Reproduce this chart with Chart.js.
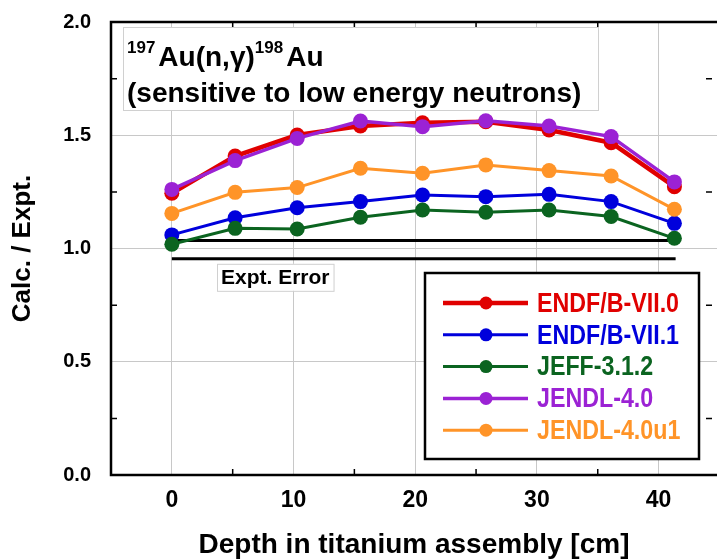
<!DOCTYPE html>
<html>
<head>
<meta charset="utf-8">
<script src="https://cdn.jsdelivr.net/npm/chart.js@4/dist/chart.umd.min.js"></script>
<style>
body{margin:0;background:#fff;}
</style>
</head>
<body>
<canvas id="c" width="717" height="559"></canvas>
<script>
// depth of each detector position [cm]
var depth = [0, 5.2, 10.3, 15.5, 20.6, 25.8, 31.0, 36.1, 41.3];

// C/E values per library
var endf70 = [1.244, 1.408, 1.501, 1.541, 1.555, 1.560, 1.523, 1.467, 1.273];
var endf71 = [1.060, 1.136, 1.180, 1.207, 1.236, 1.229, 1.239, 1.207, 1.111];
var jeff312 = [1.019, 1.089, 1.086, 1.138, 1.170, 1.160, 1.170, 1.141, 1.045];
var jendl40 = [1.261, 1.388, 1.486, 1.563, 1.538, 1.564, 1.541, 1.494, 1.294];
var jendl40u1 = [1.155, 1.248, 1.269, 1.354, 1.332, 1.369, 1.344, 1.320, 1.173];

var labels = ['ENDF/B-VII.0', 'ENDF/B-VII.1', 'JEFF-3.1.2', 'JENDL-4.0', 'JENDL-4.0u1'];
var colors = ['#e00000', '#0000dc', '#0b6420', '#9b22d4', '#ff9428'];

// experimental error band
var errHiX = [0, 40.8], errHiY = [1.035, 1.035];
var errLoX = [0, 41.4], errLoY = [0.955, 0.955];

var yTicks = [0, 0.5, 1.0, 1.5, 2.0];
var xTicks = [0, 10, 20, 30, 40];
var minorX = [5, 15, 25, 35];
var minorY = [0.25, 0.75, 1.25, 1.75];

var SANS = "'Liberation Sans', Arial, sans-serif";

function pts(xs, ys){
    var out = [];
    for(var i = 0; i < xs.length; i++) out.push({x: xs[i], y: ys[i]});
    return out;
}

var series = [endf70, endf71, jeff312, jendl40, jendl40u1];
var drawOrder = [2, 5, 4, 1, 3];
var widths = [4.5, 3, 3, 3.5, 3];
var datasets = [];
for(var i = 0; i < series.length; i++){
    datasets.push({
        label: labels[i],
        data: pts(depth, series[i]),
        borderColor: colors[i],
        backgroundColor: colors[i],
        borderWidth: widths[i],
        pointRadius: 7.5,
        pointBorderWidth: 0,
        order: drawOrder[i]
    });
}
datasets.push({label: 'errHi', data: pts(errHiX, errHiY), borderColor: '#000', borderWidth: 3, pointRadius: 0, order: 10});
datasets.push({label: 'errLo', data: pts(errLoX, errLoY), borderColor: '#000', borderWidth: 3, pointRadius: 0, order: 10});

// narrow text: squeeze horizontally
function narrowText(ctx, txt, x, y, sx){
    ctx.save();
    ctx.translate(x, y);
    ctx.scale(sx, 1);
    ctx.fillText(txt, 0, 0);
    ctx.restore();
}

var decor = {
    id: 'decor',
    beforeDatasetsDraw: function(chart){
        var ctx = chart.ctx, a = chart.chartArea;
        var xs = chart.scales.x, ys = chart.scales.y;
        ctx.save();
        ctx.strokeStyle = '#000';
        ctx.lineWidth = 1.5;
        ctx.beginPath();
        minorX.forEach(function(v){
            var px = xs.getPixelForValue(v);
            ctx.moveTo(px, a.bottom); ctx.lineTo(px, a.bottom - 6);
            ctx.moveTo(px, a.top); ctx.lineTo(px, a.top + 6);
        });
        minorY.forEach(function(v){
            var py = ys.getPixelForValue(v);
            ctx.moveTo(a.left, py); ctx.lineTo(a.left + 6, py);
            ctx.moveTo(a.right - 5, py); ctx.lineTo(a.right - 11, py);
        });
        ctx.stroke();
        ctx.lineWidth = 2.5;
        ctx.strokeRect(a.left, a.top, a.right - a.left + 4, a.bottom - a.top);
        ctx.restore();
    },
    afterDatasetsDraw: function(chart){
        var ctx = chart.ctx, a = chart.chartArea;
        var xs = chart.scales.x, ys = chart.scales.y;
        ctx.save();
        // title box
        var bx = a.left + 12, by = a.top + 5;
        ctx.fillStyle = '#fff';
        ctx.fillRect(bx, by, 475, 83);
        ctx.strokeStyle = '#d0d0d0';
        ctx.lineWidth = 1;
        ctx.strokeRect(bx + 0.5, by + 0.5, 475, 83);
        ctx.fillStyle = '#000';
        ctx.textBaseline = 'alphabetic';
        ctx.textAlign = 'left';
        var x = bx + 4, base1 = by + 39;
        var parts = [['197', 17, -13], ['Au(n,\u03b3)', 28, 0], ['198', 17, -13], ['Au', 28, 0]];
        parts.forEach(function(p){
            ctx.font = 'bold ' + p[1] + 'px ' + SANS;
            ctx.fillText(p[0], x, base1 + p[2]);
            x += ctx.measureText(p[0]).width + (p[1] < 20 ? 3 : 0);
        });
        ctx.font = 'bold 28px ' + SANS;
        ctx.fillText('(sensitive to low energy neutrons)', bx + 4, by + 75);

        // expt. error label
        var cx = xs.getPixelForValue(8.5), cy = ys.getPixelForValue(0.875);
        ctx.font = 'bold 21px ' + SANS;
        var tw = ctx.measureText('Expt. Error').width;
        ctx.fillStyle = '#fff';
        ctx.fillRect(cx - tw / 2 - 4, cy - 13, tw + 8, 27);
        ctx.strokeStyle = '#d0d0d0';
        ctx.strokeRect(cx - tw / 2 - 4 + 0.5, cy - 13 + 0.5, tw + 8, 27);
        ctx.fillStyle = '#000';
        ctx.textAlign = 'center';
        ctx.textBaseline = 'middle';
        ctx.fillText('Expt. Error', cx, cy + 1);

        // legend
        var lx = 425, ly = 273, lw = 274, lh = 186;
        ctx.fillStyle = '#fff';
        ctx.fillRect(lx, ly, lw, lh);
        ctx.strokeStyle = '#000';
        ctx.lineWidth = 2.5;
        ctx.strokeRect(lx, ly, lw, lh);
        ctx.textAlign = 'left';
        ctx.font = 'bold 28px ' + SANS;
        for(var i = 0; i < labels.length; i++){
            var ry = ly + 30 + i * 31.8;
            ctx.strokeStyle = colors[i];
            ctx.lineWidth = widths[i];
            ctx.beginPath();
            ctx.moveTo(lx + 18, ry); ctx.lineTo(lx + 103, ry);
            ctx.stroke();
            ctx.fillStyle = colors[i];
            ctx.beginPath();
            ctx.arc(lx + 61, ry, 6.5, 0, Math.PI * 2);
            ctx.fill();
            narrowText(ctx, labels[i], lx + 112, ry + 1, 0.83);
        }
        ctx.restore();
    }
};

new Chart(document.getElementById('c'), {
    type: 'line',
    data: {datasets: datasets},
    options: {
        responsive: false,
        animation: false,
        devicePixelRatio: 1,
        layout: {autoPadding: false, padding: {top: 22, right: 0, left: 0, bottom: 0}},
        plugins: {legend: {display: false}, tooltip: {enabled: false}},
        scales: {
            x: {
                type: 'linear',
                min: -5,
                max: 44.8,
                afterFit: function(s){ s.height = 84; s.paddingLeft = 0; s.paddingRight = 0; },
                afterBuildTicks: function(s){ s.ticks = xTicks.map(function(v){ return {value: v}; }); },
                grid: {color: '#c8c8c8', lineWidth: 1, drawTicks: false},
                border: {display: false},
                ticks: {color: '#000', padding: 12, font: {family: SANS, size: 23, weight: 'bold'}},
                title: {display: true, text: 'Depth in titanium assembly [cm]', color: '#000',
                    font: {family: SANS, size: 28, weight: 'bold', lineHeight: 0.95}, padding: {top: 0, bottom: 0}}
            },
            y: {
                type: 'linear',
                min: 0,
                max: 2,
                afterFit: function(s){ s.width = 111; s.paddingTop = 0; s.paddingBottom = 0; },
                afterBuildTicks: function(s){ s.ticks = yTicks.map(function(v){ return {value: v}; }); },
                grid: {color: '#c8c8c8', lineWidth: 1, drawTicks: false},
                border: {display: false},
                ticks: {color: '#000', padding: 20, font: {family: SANS, size: 20, weight: 'bold'},
                    callback: function(v){ return v.toFixed(1); }},
                title: {display: true, text: 'Calc. / Expt.', color: '#000',
                    font: {family: SANS, size: 26, weight: 'bold'}, padding: {top: 7, bottom: 0}}
            }
        }
    },
    plugins: [decor]
});
</script>
</body>
</html>
